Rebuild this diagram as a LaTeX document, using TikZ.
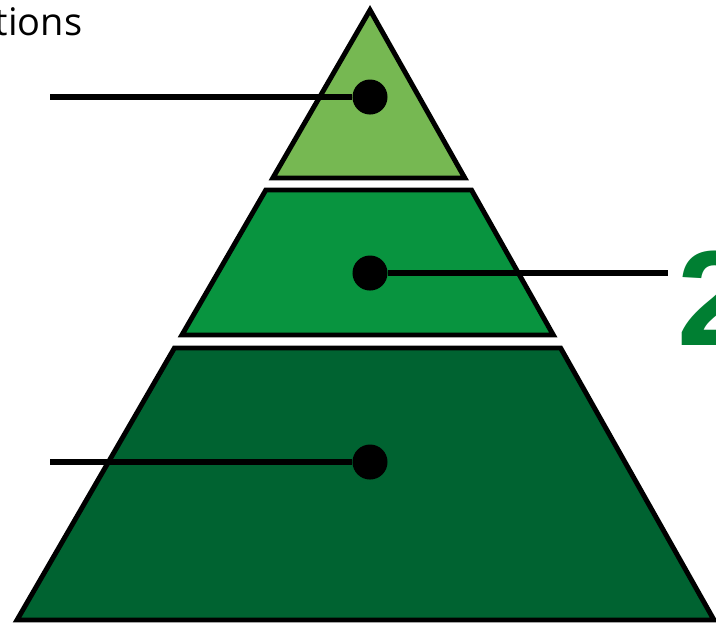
\documentclass[tikz,border=0pt]{standalone}
\usepackage{fontspec}
\setmainfont{Open Sans}
\newfontfamily\digitfont{Liberation Sans}
\usetikzlibrary{positioning}
\definecolor{TopGreen}{HTML}{76B852}
\definecolor{MidGreen}{HTML}{08943F}
\definecolor{BaseGreen}{HTML}{006331}
\definecolor{LabelGreen}{HTML}{007F32}

\begin{document}
\begin{tikzpicture}[
  x=0.01cm, y=-0.01cm,
  layer/.style={draw=black, line width=1.4pt, line join=miter},
  dot/.style={circle, fill=black, inner sep=0pt, minimum size=0.35cm},
  lead/.style={line width=1.7pt}
]
\useasboundingbox (0,0) rectangle (716,626);
\clip (0,0) rectangle (716,626);
% pyramid layers
\draw[layer, fill=TopGreen] (370,10) -- (464.8,178) -- (272.8,178) -- cycle;
\draw[layer, fill=MidGreen] (265.8,190) -- (471.5,190) -- (553.3,335) -- (181.9,335) -- cycle;
\draw[layer, fill=BaseGreen] (174.4,348) -- (560.6,348) -- (714,620) -- (17,620) -- cycle;
% markers
\node[dot] (topdot) at (370,97) {};
\node[dot] (middot) at (370,273) {};
\node[dot] (basedot) at (370,462) {};
\coordinate (topend) at (50,97);
\coordinate (midend) at (668,273);
\coordinate (baseend) at (50,462);
\draw[lead] (topend) -- (topdot);
\draw[lead] (middot) -- (midend);
\draw[lead] (baseend) -- (basedot);
% labels
\node[anchor=base east, inner sep=0pt, font=\fontsize{10.8}{12}\selectfont] (toplabel) at (83,35) {tions};
\node[anchor=base west, inner sep=0pt, text=LabelGreen, font=\digitfont\bfseries\fontsize{38.5}{40}\selectfont] (midlabel) at (677,345) {2};
\end{tikzpicture}
\end{document}
